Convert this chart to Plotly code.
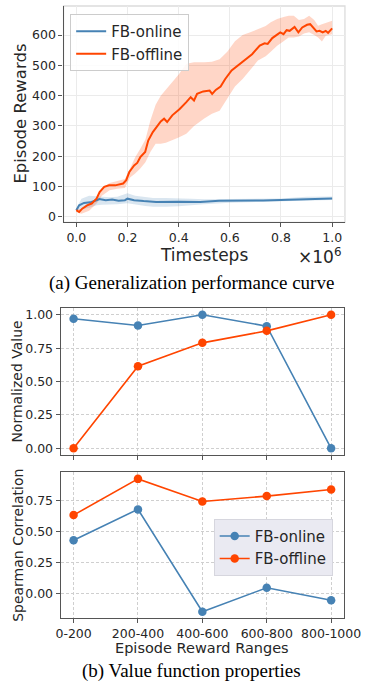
import plotly.graph_objects as go

W, H = 377, 683

# ---------------- data: (a) generalization curve ----------------
off_x = [0, 0.011, 0.023, 0.042, 0.06, 0.079, 0.091, 0.109, 0.128, 0.152, 0.183, 0.195, 0.207, 0.226, 0.238,
         0.25, 0.269, 0.281, 0.299, 0.312, 0.33, 0.343, 0.355, 0.375, 0.404, 0.429, 0.447, 0.46, 0.472, 0.496,
         0.521, 0.531, 0.545, 0.564, 0.582, 0.607, 0.631, 0.662, 0.687, 0.717, 0.736, 0.748, 0.766, 0.797, 0.810,
         0.822, 0.834, 0.853, 0.868, 0.883, 0.902, 0.914, 0.926, 0.939, 0.951, 0.963, 0.975, 0.984, 1.0]
off_y = [22, 16, 27, 38, 44, 60, 82, 99, 104, 104, 110, 121, 148, 170, 178,
         197, 214, 252, 280, 296, 315, 324, 313, 335, 356, 378, 395, 384, 406, 414,
         417, 406, 419, 430, 455, 483, 499, 521, 537, 565, 573, 571, 590, 609, 603,
         616, 614, 627, 609, 625, 634, 636, 625, 612, 614, 609, 614, 607, 622]

off_bx = [0, 0.02, 0.05, 0.08, 0.1, 0.13, 0.16, 0.19, 0.21, 0.23, 0.25, 0.27, 0.29, 0.31, 0.33, 0.35, 0.37,
          0.40, 0.43, 0.46, 0.50, 0.53, 0.56, 0.59, 0.62, 0.65, 0.68, 0.71, 0.74, 0.76, 0.785, 0.81, 0.83,
          0.85, 0.87, 0.89, 0.91, 0.93, 0.945, 0.96, 0.975, 0.99, 1.0]
off_up = [28, 25, 45, 62, 95, 112, 118, 125, 160, 197, 225, 255, 320, 370, 400, 420, 439,
          470, 505, 510, 510, 512, 520, 545, 580, 600, 609, 620, 630, 642, 653, 660, 664,
          664, 650, 653, 664, 650, 631, 636, 640, 645, 647]
off_lo = [16, 10, 20, 45, 70, 88, 93, 95, 130, 143, 160, 180, 215, 241, 241, 245, 252,
          262, 274, 300, 325, 340, 350, 390, 430, 455, 485, 516, 530, 545, 565, 580, 592,
          592, 595, 605, 609, 600, 592, 579, 598, 600, 603]

on_x = [0, 0.011, 0.03, 0.054, 0.079, 0.09, 0.115, 0.14, 0.165, 0.19, 0.2, 0.226, 0.263, 0.312, 0.4,
        0.484, 0.558, 0.644, 0.73, 0.8, 0.89, 1.0]
on_y = [22, 38, 46, 48, 55, 59, 55, 57, 53, 55, 60, 55, 52, 49, 50, 49, 53, 53, 54, 56, 59, 61]

on_bx = [0, 0.02, 0.05, 0.08, 0.1, 0.13, 0.16, 0.2, 0.23, 0.27, 0.3, 0.35, 0.4, 0.45, 0.5, 0.6, 0.7, 0.8, 0.9, 1.0]
on_up = [28, 60, 70, 68, 68, 65, 66, 78, 70, 64, 62, 62, 62, 60, 58, 59, 59, 61, 66, 67]
on_lo = [18, 25, 30, 38, 40, 42, 42, 45, 40, 36, 33, 33, 35, 38, 42, 47, 49, 51, 54, 56]

x_ticks_a = [0.0, 0.2, 0.4, 0.6, 0.8, 1.0]
y_ticks_a = [0, 100, 200, 300, 400, 500, 600]

# ---------------- data: (b) value function properties ----------------
ranges = ["0-200", "200-400", "400-600", "600-800", "800-1000"]
norm_online = [0.97, 0.92, 1.00, 0.915, 0.00]
norm_offline = [0.00, 0.615, 0.79, 0.88, 1.00]
spear_online = [0.429, 0.678, -0.147, 0.046, -0.054]
spear_offline = [0.632, 0.924, 0.742, 0.785, 0.838]
y_ticks_b = [0.00, 0.25, 0.50, 0.75, 1.00]
y_ticks_c = [0.00, 0.25, 0.50, 0.75]

BLUE = "#4682B4"
RED = "#FF4500"
FONT = "DejaVu Sans"
TXT = "#262626"
SPINE = "#555555"
GRIDB = "#cfcfcf"
DASH = "3px,2px"


def px(x):
    return x / W


def py(y):
    return 1 - y / H


fig = go.Figure()

# bands
fig.add_trace(go.Scatter(x=on_bx + on_bx[::-1], y=on_up + on_lo[::-1], fill="toself",
                         fillcolor="rgba(70,130,180,0.2)", line=dict(width=0), hoverinfo="skip",
                         showlegend=False, xaxis="x", yaxis="y"))
fig.add_trace(go.Scatter(x=off_bx + off_bx[::-1], y=off_up + off_lo[::-1], fill="toself",
                         fillcolor="rgba(255,69,0,0.22)", line=dict(width=0), hoverinfo="skip",
                         showlegend=False, xaxis="x", yaxis="y"))
fig.add_trace(go.Scatter(x=on_x, y=on_y, mode="lines", name="FB-online",
                         line=dict(color=BLUE, width=2), xaxis="x", yaxis="y", legend="legend"))
fig.add_trace(go.Scatter(x=off_x, y=off_y, mode="lines", name="FB-offline",
                         line=dict(color=RED, width=2), xaxis="x", yaxis="y", legend="legend"))

# (b) top: normalized value
fig.add_trace(go.Scatter(x=ranges, y=norm_online, mode="lines+markers", name="FB-online",
                         line=dict(color=BLUE, width=1.6), marker=dict(size=8.5, color=BLUE),
                         showlegend=False, xaxis="x2", yaxis="y2"))
fig.add_trace(go.Scatter(x=ranges, y=norm_offline, mode="lines+markers", name="FB-offline",
                         line=dict(color=RED, width=1.6), marker=dict(size=8.5, color=RED),
                         showlegend=False, xaxis="x2", yaxis="y2"))
# (b) bottom: spearman
fig.add_trace(go.Scatter(x=ranges, y=spear_online, mode="lines+markers", name="FB-online",
                         line=dict(color=BLUE, width=1.6), marker=dict(size=8.5, color=BLUE),
                         xaxis="x3", yaxis="y3", legend="legend2"))
fig.add_trace(go.Scatter(x=ranges, y=spear_offline, mode="lines+markers", name="FB-offline",
                         line=dict(color=RED, width=1.6), marker=dict(size=8.5, color=RED),
                         xaxis="x3", yaxis="y3", legend="legend2"))

tickfont = dict(family=FONT, size=12.5, color=TXT)

dom_a_x = [px(62), px(360)]
dom_a_y = [py(222.3), py(5)]
dom_b_x = [px(59), px(359)]
dom_b_y = [py(456), py(308.5)]
dom_c_y = [py(620), py(473)]

fig.update_layout(
    width=W, height=H, autosize=False, margin=dict(l=0, r=0, t=0, b=0, pad=0),
    paper_bgcolor="white", plot_bgcolor="white",
    font=dict(family=FONT, color=TXT),
    xaxis=dict(domain=dom_a_x, anchor="y", range=[-0.05, 1.05], tickvals=x_ticks_a,
               ticktext=["%.1f" % v for v in x_ticks_a], showgrid=True, gridcolor="#ebebeb", gridwidth=1,
               showline=True, linecolor=SPINE, linewidth=1.3, ticks="outside", ticklen=4, tickcolor=SPINE,
               zeroline=False, tickfont=tickfont),
    yaxis=dict(domain=dom_a_y, anchor="x", range=[-18, 696], tickvals=y_ticks_a,
               showgrid=True, gridcolor="#ebebeb", gridwidth=1,
               showline=True, linecolor=SPINE, linewidth=1.3, ticks="outside", ticklen=4, tickcolor=SPINE,
               zeroline=False, tickfont=tickfont),
    xaxis2=dict(domain=dom_b_x, anchor="y2", type="category", range=[-0.2, 4.2], showticklabels=False,
                showgrid=True, gridcolor=GRIDB, griddash=DASH, gridwidth=1,
                showline=True, mirror=True, linecolor=SPINE, linewidth=1.3,
                ticks="outside", ticklen=4, tickcolor=SPINE, zeroline=False),
    yaxis2=dict(domain=dom_b_y, anchor="x2", range=[-0.05, 1.05], tickvals=y_ticks_b,
                ticktext=["%.2f" % v for v in y_ticks_b],
                showgrid=True, gridcolor=GRIDB, griddash=DASH, gridwidth=1,
                showline=True, mirror=True, linecolor=SPINE, linewidth=1.3,
                ticks="outside", ticklen=4, tickcolor=SPINE, zeroline=False, tickfont=tickfont),
    xaxis3=dict(domain=dom_b_x, anchor="y3", type="category", range=[-0.2, 4.2],
                showgrid=True, gridcolor=GRIDB, griddash=DASH, gridwidth=1,
                showline=True, mirror=True, linecolor=SPINE, linewidth=1.3,
                ticks="outside", ticklen=4, tickcolor=SPINE, zeroline=False, tickfont=tickfont),
    yaxis3=dict(domain=dom_c_y, anchor="x3", range=[-0.2, 0.98], tickvals=y_ticks_c,
                ticktext=["%.2f" % v for v in y_ticks_c],
                showgrid=True, gridcolor=GRIDB, griddash=DASH, gridwidth=1,
                showline=True, mirror=True, linecolor=SPINE, linewidth=1.3,
                ticks="outside", ticklen=4, tickcolor=SPINE, zeroline=False, tickfont=tickfont),
    legend=dict(x=px(69), y=py(13), xanchor="left", yanchor="top", bgcolor="rgba(255,255,255,0.85)",
                bordercolor="#cccccc", borderwidth=1, font=dict(family=FONT, size=15, color=TXT),
                tracegroupgap=0, itemwidth=30),
    legend2=dict(x=px(221), y=py(520), xanchor="left", yanchor="top", bgcolor="#EAEAF2",
                 bordercolor="#d6d6de", borderwidth=1, font=dict(family=FONT, size=15, color=TXT),
                 tracegroupgap=0, itemwidth=30),
    showlegend=True,
)

# light top/right frame for panel (a)
fig.add_shape(type="rect", xref="paper", yref="paper", x0=dom_a_x[0], x1=dom_a_x[1], y0=dom_a_y[0],
              y1=dom_a_y[1], line=dict(color="#dcdcdc", width=1.3), layer="below")

ann = [
    dict(text="Episode Rewards", x=px(16), y=py(113), textangle=-90, font=dict(size=16.5)),
    dict(text="Timesteps", x=px(211), y=py(255), font=dict(size=17)),
    dict(text="×10<sup>6</sup>", x=px(358), y=py(256), xanchor="right", font=dict(size=17)),
    dict(text="(a) Generalization performance curve", x=px(198), y=py(283),
         font=dict(family="Liberation Serif", size=19, color="black")),
    dict(text="Normalized Value", x=px(13), y=py(382), textangle=-90, font=dict(size=14)),
    dict(text="Spearman Correlation", x=px(13), y=py(547), textangle=-90, font=dict(size=14)),
    dict(text="Episode Reward Ranges", x=px(209), y=py(650), font=dict(size=14.5)),
    dict(text="(b) Value function properties", x=px(198), y=py(673),
         font=dict(family="Liberation Serif", size=19, color="black")),
]
for a in ann:
    a.setdefault("xanchor", "center")
    a.update(xref="paper", yref="paper", yanchor="middle", showarrow=False)
    f = a["font"]
    f.setdefault("family", FONT)
    f.setdefault("color", TXT)
    fig.add_annotation(**a)

fig.write_html("out.html", config={"responsive": False, "displayModeBar": False},
               default_width="377px", default_height="683px",
               post_script="document.body.style.margin='0';document.body.style.overflow='hidden';")
